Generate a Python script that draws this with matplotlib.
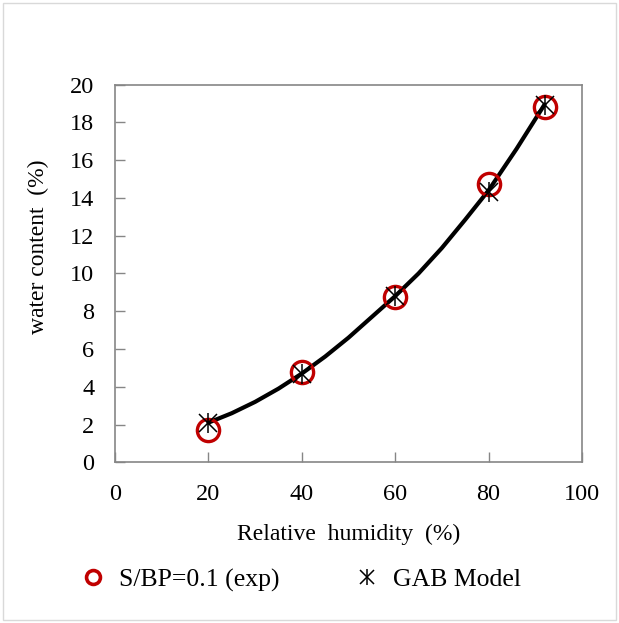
import matplotlib.pyplot as plt
from matplotlib.patches import Rectangle
from matplotlib.legend_handler import HandlerTuple

# relative humidity (%) and water content (%)
rh_exp = [20, 40, 60, 80, 92]
wc_exp = [1.7, 4.8, 8.75, 14.75, 18.8]

rh_gab = [20, 40, 60, 80, 92]
wc_gab = [2.1, 4.7, 8.8, 14.3, 18.95]

# smooth GAB curve
rh_fit = [20, 25, 30, 35, 40, 45, 50, 55, 60, 65, 70, 75, 80, 86, 92]
wc_fit = [2.1, 2.6, 3.2, 3.9, 4.7, 5.6, 6.6, 7.7, 8.8, 10.0, 11.35, 12.85, 14.4, 16.6, 18.95]

plt.rcParams['font.family'] = ['Liberation Serif', 'DejaVu Serif']

fig = plt.figure(figsize=(6.19, 6.23), dpi=100)
ax = fig.add_axes([0.186, 0.258, 0.754, 0.606])

ax.plot(rh_fit, wc_fit, color='black', lw=3.0, solid_capstyle='round',
        solid_joinstyle='round', zorder=2)
ax.plot(rh_exp, wc_exp, 'o', ms=16, mfc='none', mec='#c00000', mew=2.4, zorder=3)
ax.plot(rh_gab, wc_gab, 'x', ms=13, color='black', mew=1.1, zorder=4)
ax.plot(rh_gab, wc_gab, '|', ms=15, color='black', mew=1.1, zorder=4)

ax.set_xlim(0, 100)
ax.set_ylim(0, 20)
ax.set_xticks(range(0, 101, 20))
ax.set_yticks(range(0, 21, 2))
ax.tick_params(direction='in', length=7, width=1, color='#868686', labelsize=17.5)
ax.tick_params(axis='x', pad=16)
ax.tick_params(axis='y', pad=15)
for s in ax.spines.values():
    s.set_color('#868686')
    s.set_linewidth(1.2)

ax.set_xlabel('Relative  humidity  (%)', fontsize=17, labelpad=13)
ax.set_ylabel('water content  (%)', fontsize=17, labelpad=15, y=0.57)

h_exp, = ax.plot([], [], 'o', ms=10, mfc='none', mec='#c00000', mew=2.6)
h_x, = ax.plot([], [], 'x', ms=10, color='black', mew=1.1)
h_v, = ax.plot([], [], '|', ms=11, color='black', mew=1.1)
fig.legend([h_exp, (h_x, h_v)], ['S/BP=0.1 (exp)', 'GAB Model'],
           handler_map={tuple: HandlerTuple(ndivide=1)},
           loc='center left', bbox_to_anchor=(0.0927, 0.069), ncol=2,
           frameon=False, fontsize=18.5, columnspacing=2.9, handletextpad=0.5,
           handlelength=1.0)

fig.patches.append(Rectangle((0.005, 0.005), 0.99, 0.99, transform=fig.transFigure,
                             fill=False, edgecolor='#d9d9d9', lw=1))

fig.savefig('out.png', dpi=100)
